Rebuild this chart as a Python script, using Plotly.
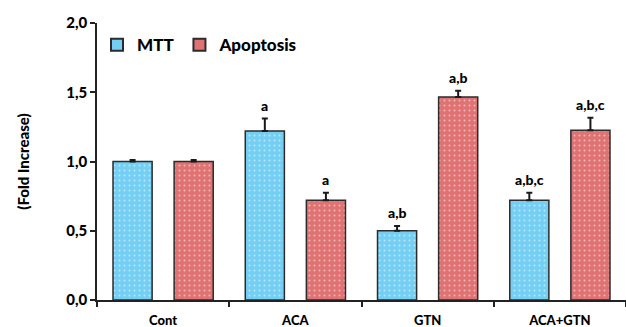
import plotly.graph_objects as go

groups = ["Cont", "ACA", "GTN", "ACA+GTN"]
mtt = [1.00, 1.22, 0.50, 0.72]
mtt_err = [0.01, 0.09, 0.035, 0.055]
apoptosis = [1.00, 0.72, 1.465, 1.225]
apoptosis_err = [0.01, 0.055, 0.045, 0.09]
mtt_sig = ["", "a", "a,b", "a,b,c"]
apoptosis_sig = ["", "a", "a,b", "a,b,c"]
y_ticks = [0.0, 0.5, 1.0, 1.5, 2.0]
y_tick_text = ["0,0", "0,5", "1,0", "1,5", "2,0"]

FONT = "Lato"
HEAVY = 900
BLUE = "#74cff3"
RED = "#df7373"
EDGE = "#2b2b2b"


def bar_trace(name, values, errors, color):
    return go.Bar(
        name=name,
        x=groups,
        y=values,
        showlegend=False,
        marker=dict(
            color=color,
            line=dict(color=EDGE, width=1.5),
            pattern=dict(shape=".", fgcolor="white", bgcolor=color,
                         size=5, solidity=0.12, fillmode="overlay"),
        ),
        error_y=dict(type="data", symmetric=False, array=errors,
                     arrayminus=[0] * len(errors), color="#1a1a1a",
                     thickness=2, width=3),
    )


def legend_key(name, color):
    # square swatch for the legend
    return go.Scatter(
        name=name, x=[None], y=[None], mode="markers",
        marker=dict(symbol="square", size=10, color=color,
                    line=dict(color=EDGE, width=1.2)),
        showlegend=True,
    )


fig = go.Figure()
fig.add_trace(bar_trace("MTT", mtt, mtt_err, BLUE))
fig.add_trace(bar_trace("Apoptosis", apoptosis, apoptosis_err, RED))
fig.add_trace(legend_key("MTT", BLUE))
fig.add_trace(legend_key("Apoptosis", RED))

# significance letters above each error bar
for trace_idx, (vals, errs, sig) in enumerate(
        [(mtt, mtt_err, mtt_sig), (apoptosis, apoptosis_err, apoptosis_sig)]):
    shift = -30.5 if trace_idx == 0 else 30.5
    for g, v, e, s in zip(groups, vals, errs, sig):
        if s:
            fig.add_annotation(
                x=g, y=v + e, text=s, showarrow=False,
                xshift=shift, yshift=3, yanchor="bottom",
                font=dict(family=FONT, size=14, color="black", weight=HEAVY),
            )

fig.update_layout(
    width=626, height=327,
    margin=dict(l=97, r=0, t=23, b=27),
    paper_bgcolor="white", plot_bgcolor="white",
    barmode="group", bargap=0.076, bargroupgap=0.36,
    showlegend=True,
    legend=dict(orientation="h", x=0.0, y=0.985, xanchor="left", yanchor="top",
                font=dict(family=FONT, size=17, color="black", weight=HEAVY),
                bgcolor="rgba(0,0,0,0)", itemsizing="constant",
                traceorder="normal", itemwidth=30, tracegroupgap=0),
    font=dict(family=FONT, color="black"),
)
fig.update_yaxes(
    range=[0, 2.0], tickvals=y_ticks, ticktext=y_tick_text,
    tickfont=dict(family=FONT, size=15, color="black", weight=HEAVY),
    showgrid=False, zeroline=False,
    showline=True, linecolor="#222", linewidth=1.5,
    ticks="outside", ticklen=5, tickcolor="#222", tickwidth=1.5,
    title=dict(text="(Fold Increase)", standoff=33,
               font=dict(family=FONT, size=15, color="black", weight=HEAVY)),
)
fig.update_xaxes(
    tickvals=groups, ticktext=groups,
    tickfont=dict(family=FONT, size=13, color="black", weight=HEAVY),
    showgrid=False, showline=True, linecolor="#222", linewidth=1.5,
    ticks="outside", tickson="boundaries", ticklen=5,
    tickcolor="#222", tickwidth=1.5, ticklabelstandoff=8,
)

fig.write_html("out.html")
